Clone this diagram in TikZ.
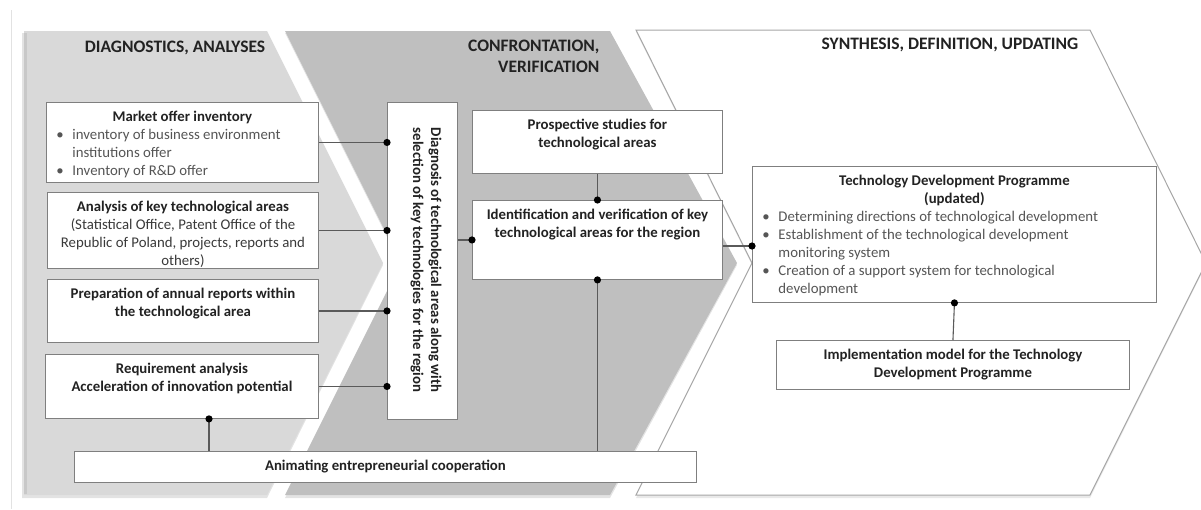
\documentclass[tikz,border=0pt]{standalone}
\usepackage{fontspec}
\setmainfont{Carlito}
\usetikzlibrary{calc}

\definecolor{chevA}{HTML}{D9D9D9}
\definecolor{chevB}{HTML}{BFBFBF}
\definecolor{chevline}{HTML}{A6A6A6}
\definecolor{chevshade}{HTML}{C8C8C8}
\definecolor{boxline}{HTML}{7F7F7F}
\definecolor{linkgray}{HTML}{5A5A5A}
\definecolor{titletext}{HTML}{222222}
\definecolor{bultext}{HTML}{555555}
\definecolor{sourcetext}{HTML}{3A3A3A}
\definecolor{frameline}{HTML}{E2E2E2}

\newcommand\bodyfont{\fontsize{14.8pt}{18pt}\selectfont}
\newcommand\headfont{\fontsize{17.5pt}{21pt}\selectfont\bfseries}
% fixed-size panel with text starting at its top
\newcommand\panel[3]{\parbox[c][#2][t]{#1}{#3}}
\newcommand\firstline{\rule{0pt}{19.5pt}}
\newcommand\bulitem[1]{\par\raggedright\leftskip=10pt\hangindent=16pt\hangafter=1\noindent
  {\color{bultext}\makebox[16pt][l]{\textbullet}#1}\par}

\begin{document}
\begin{tikzpicture}[x=1pt,y=-1pt,
  box/.style={draw=boxline, fill=white, line width=0.9pt, inner sep=0pt,
    anchor=north west, font=\bodyfont, text=titletext},
  link/.style={draw=linkgray, line width=1.1pt},
  head/.style={font=\headfont, text=titletext}]
\useasboundingbox (0,0) rectangle (1201,509);

% thin frame line on the left
\draw[frameline, line width=1pt] (11,10) -- (11,509);

% soft shadows under the phase chevrons
\fill[chevshade, opacity=0.5] (22,33) -- (267,33) -- (383,265) -- (267,498) -- (22,498) -- cycle;
\fill[chevshade, opacity=0.5] (285,33) -- (610,33) -- (737,265) -- (610,498) -- (285,498) -- (401,265) -- cycle;
\fill[chevshade, opacity=0.4] (636,32) -- (1090,32) -- (1206,265) -- (1090,498) -- (636,498) -- (752,265) -- cycle;

% the three phase chevrons
\fill[chevA] (24,31) -- (267,31) -- (383,263) -- (267,495) -- (24,495) -- cycle;
\draw[chevshade, line width=3pt] (25.5,33) -- (25.5,494);
\fill[chevB] (285,31) -- (610,31) -- (737,263) -- (610,495) -- (285,495) -- (401,263) -- cycle;
\draw[chevline, fill=white, line width=1pt] (636,30) -- (1090,30) -- (1206,263) -- (1090,495) -- (636,495) -- (752,263) -- cycle;

% phase headings
\node[head] (h1) at (175,48) {DIAGNOSTICS, ANALYSES};
\node[head, align=right, anchor=north east] (h2) at (603,36) {CONFRONTATION,\\VERIFICATION};
\node[head] (h3) at (950,45) {SYNTHESIS, DEFINITION, UPDATING};

% left column
\node[box] (A) at (46,102) {\panel{272pt}{80pt}{\centering\firstline\textbf{Market offer inventory}\par
  \bulitem{inventory of business environment\newline institutions offer}\bulitem{Inventory of R\&D offer}}};
\node[box] (B) at (47,192) {\panel{271pt}{76pt}{\centering\firstline\textbf{Analysis of key technological areas}\\
  {\color{sourcetext}(Statistical Office, Patent Office of the\\Republic of Poland, projects, reports and\\others)}}};
\node[box] (C) at (47,279) {\panel{271pt}{63pt}{\centering\firstline\textbf{Preparation of annual reports within\\the technological area}}};
\node[box] (D) at (45,354) {\panel{273pt}{64pt}{\centering\firstline\textbf{Requirement analysis\\Acceleration of innovation potential}}};

% vertical diagnosis box
\node[box, minimum width=70pt, minimum height=317pt] (V) at (387,102) {};
\node[rotate=-90, align=center, font=\bodyfont\bfseries, text=titletext] (Vt) at (426,260)
  {Diagnosis of technological areas along with\\selection of key technologies for the region};

% middle column
\node[box] (F) at (472,110) {\panel{250pt}{63pt}{\centering\firstline\textbf{Prospective studies for\\technological areas}}};
\node[box] (G) at (472,200) {\panel{250pt}{79pt}{\centering\firstline\textbf{Identification and verification of key\\technological areas for the region}}};

% right column
\node[box] (H) at (752,166) {\panel{404pt}{136pt}{\centering\firstline\textbf{Technology Development Programme\\(updated)}\par
  \bulitem{Determining directions of technological development}
  \bulitem{Establishment of the technological development\newline monitoring system}
  \bulitem{Creation of a support system for technological\newline development}}};
\node[box] (I) at (776,340) {\panel{353pt}{49pt}{\centering\firstline\textbf{Implementation model for the Technology\\Development Programme}}};

% bottom bar
\node[box] (E) at (74,451) {\panel{622pt}{31pt}{\centering\firstline\textbf{Animating entrepreneurial cooperation}}};

% connectors
\foreach \n in {A,B,C,D}{
  \draw[link] (\n.east) -- (\n.east -| V.west);
  \fill (\n.east -| V.west) circle[radius=3.6pt];
}
\coordinate (dE) at (209,0);
\draw[link] (dE |- D.south) -- (dE |- E.north);
\fill (dE |- D.south) circle[radius=3.6pt];

\draw[link] (G.west -| V.east) -- (G.west);
\fill (G.west) circle[radius=3.6pt];

\draw[link] (F.south) -- (G.north);
\fill (G.north) circle[radius=3.6pt];
\draw[link] (G.south) -- (G.south |- E.north);
\fill (G.south) circle[radius=3.6pt];

\coordinate (gh) at (0,246);
\draw[link] (gh -| G.east) -- (gh -| H.west);
\fill (gh -| H.west) circle[radius=3.6pt];

\draw[link] (H.south) -- (I.north);
\fill (H.south) circle[radius=3.6pt];
\end{tikzpicture}
\end{document}
